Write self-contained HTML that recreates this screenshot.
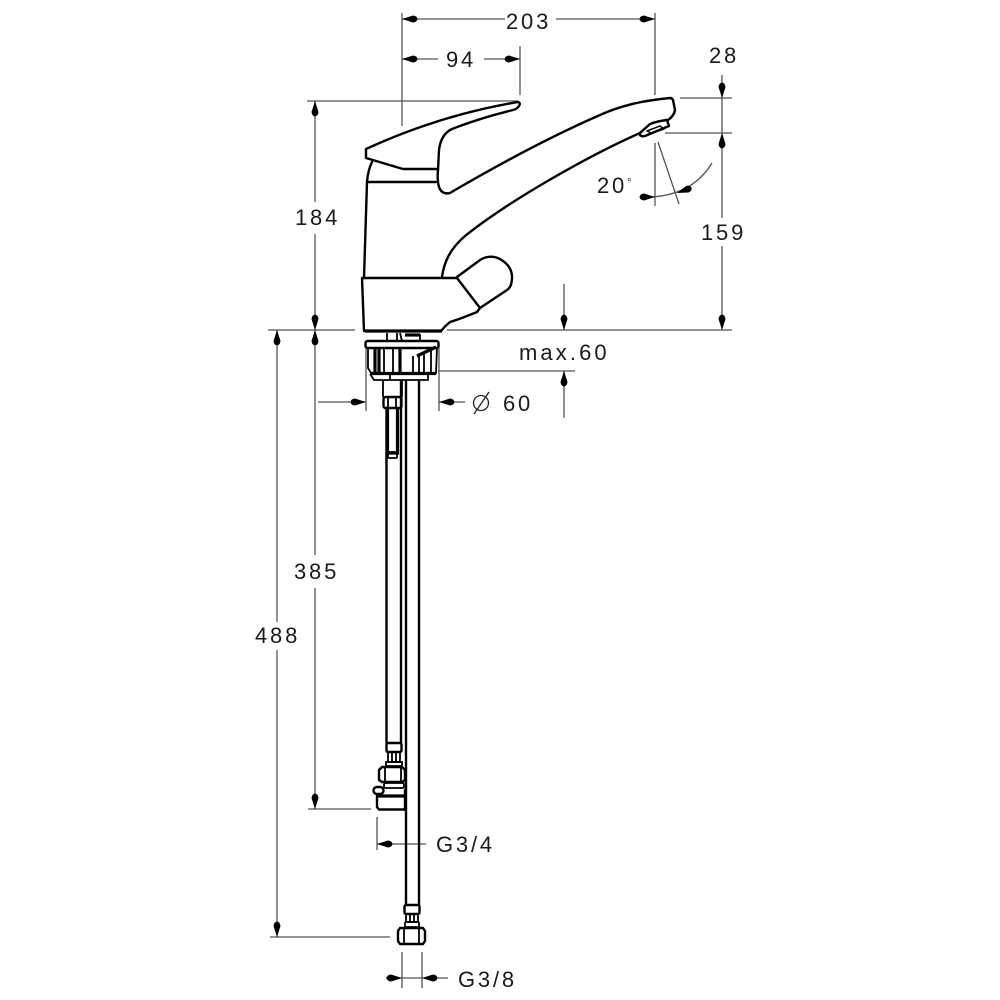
<!DOCTYPE html>
<html>
<head>
<meta charset="utf-8">
<style>
html,body{margin:0;padding:0;background:#fff}
svg{display:block}
text{font-family:"Liberation Sans",sans-serif;font-size:22px;fill:#1a1a1a;letter-spacing:2.800px}
.d{stroke:#555;stroke-width:1.3;fill:none}
.o{stroke:#000;stroke-width:2.4;fill:none;stroke-linejoin:round;stroke-linecap:round}
.t{stroke:#000;stroke-width:1.8;fill:none}
.k{stroke:#000;stroke-width:3.2;fill:none}
.a{fill:#000}
</style>
</head>
<body>
<svg width="1000" height="1000" viewBox="0 0 1000 1000" xmlns="http://www.w3.org/2000/svg">
<defs>
<path id="ar" d="M0 0 L-3.500 -11 Q-3 -15 0 -15.500 Q3 -15 3.500 -11 Z" class="a"/>
</defs>

<!-- dimension lines -->
<g class="d">
<path d="M402 13V126M655 13V95M520 46V95"/>
<path d="M402 19H505M556 19H655"/>
<path d="M402 59H438M484 59H520"/>
<path d="M307 101H518"/>
<path d="M315 101V202M315 234V555M315 588V809"/>
<path d="M268 330H355M447 330H732"/>
<path d="M277 330V622M277 650V937"/>
<path d="M270 937H390M308 809H371"/>
<path d="M680 98H732M665 133H732"/>
<path d="M722 75V218M722 246V330"/>
<path d="M564 284V330M564 371V418M438 371H575"/>
<path d="M366 345V411M439 345V411M318 402H366M439 402H465"/>
<path d="M655 143V206M658 142L679 204"/>
<path d="M640 197Q690 199 712 163"/>
<path d="M377 817V850M377 844H426"/>
<path d="M402 952V988M422 952V988M386 978H448"/>
</g>

<!-- arrowheads: drawn pointing down with the tip at the origin -->
<use href="#ar" transform="translate(402,19) rotate(90)"/>
<use href="#ar" transform="translate(655,19) rotate(-90)"/>
<use href="#ar" transform="translate(402,59) rotate(90)"/>
<use href="#ar" transform="translate(520,59) rotate(-90)"/>
<use href="#ar" transform="translate(315,101) rotate(180)"/>
<use href="#ar" transform="translate(315,330)"/>
<use href="#ar" transform="translate(315,330) rotate(180)"/>
<use href="#ar" transform="translate(315,809)"/>
<use href="#ar" transform="translate(277,330) rotate(180)"/>
<use href="#ar" transform="translate(277,937)"/>
<use href="#ar" transform="translate(722,98)"/>
<use href="#ar" transform="translate(722,133) rotate(180)"/>
<use href="#ar" transform="translate(722,330)"/>
<use href="#ar" transform="translate(564,330)"/>
<use href="#ar" transform="translate(564,371) rotate(180)"/>
<use href="#ar" transform="translate(366,402) rotate(-90)"/>
<use href="#ar" transform="translate(439,402) rotate(90)"/>
<use href="#ar" transform="translate(377,844) rotate(90)"/>
<use href="#ar" transform="translate(402,978) rotate(-90)"/>
<use href="#ar" transform="translate(422,978) rotate(90)"/>
<use href="#ar" transform="translate(655,197) rotate(-90)"/>
<use href="#ar" transform="translate(677,193) rotate(70)"/>

<!-- faucet -->
<g class="o">
<path d="M366 149L366 158L403 169H438"/>
<path d="M366 149Q440 115 518 102Q521 103 519 106Q517 109 513 110Q480 118 452 129Q441 134 439 150L438 170Q437 180 439 187Q442 195 450 193L455 190C510 158 560 132 607 112C630 103 650 100 670 98Q672 98 673 100L675 110Q674 116 668 120"/>
<path d="M372 162Q368 170 367 182L364 278"/>
<path d="M367 182H436"/>
<path d="M640 133C590 155 510 200 465 236C450 249 444 262 442 277"/>
<path d="M362 278H457L480 308L477 312Q460 319 450 322Q445 326 441 331H364Z"/>
<path d="M457 277L480 260Q490 254 500 259Q512 266 512 277Q512 287 507 290L480 308"/>
<path d="M640 133L650 124Q658 121 667 120L669 126L645 136Q642 137 640 135Z"/>
<path d="M647 131L660 126L664 129L651 133Z" stroke-width="1.5"/>
</g>

<!-- base connection -->
<g>
<path d="M365 331H442" class="k"/>
<path d="M387 333V341M397 333V341M400 333L402 341M405 335H420V341" class="t"/>
<path d="M405 335H420" class="k"/>
<rect x="365.500" y="341" width="73" height="7" rx="2" class="o"/>
<path d="M368 348V368L371 373H436L437 348" class="t"/>
<path d="M375 348V372M379 348V372M384 348V372M393 348V372M400 348V372M413 356V372M419 356V372M424 353V372M431 350V372" class="t"/>
<path d="M375 348V372M379 348V372M400 348V372" class="k" stroke-width="2.600"/>
<path d="M417 356L436 347" class="k"/>
<path d="M370 373.500H436" class="k" stroke-width="3.500"/>
<path d="M370 374L374 380H428V373" class="t"/>
<path d="M390 375V379" class="t"/>
<path d="M383 380V397M402 380V397" class="t"/>
<rect x="383.500" y="397" width="18" height="11" rx="2" class="o"/>
<path d="M388 398V407M396 398V407" class="t"/>
</g>

<!-- left hose with inner rod -->
<path d="M386.500 408V743M401 381V743" class="o"/>
<path d="M387.500 408V453H397.500V408" class="k"/>
<rect x="388" y="452" width="9" height="6" rx="1" class="t"/>

<!-- right hose -->
<path d="M406 381V905M419 381V905" class="o"/>

<!-- lower-left fitting -->
<g>
<rect x="386.500" y="743" width="15" height="9" rx="1.500" class="o"/>
<path d="M388 752V762H400V752M392 752V762M396 752V762" class="t"/>
<path d="M386 762H402V766H386Z" class="t"/>
<path d="M382 767H402L405 770V780L402 782H382L379 780V770Z" class="o"/>
<path d="M385 768V781M401 768V781" class="t"/>
<rect x="384" y="783" width="20" height="5" rx="1.500" class="t"/>
<rect x="373.500" y="787" width="10" height="7" rx="3.500" class="o"/>
<path d="M377 796H405" class="k" stroke-width="4"/>
<path d="M377 796V807L379 809.500H405" class="o"/>
<path d="M405 790V810" class="o"/>
</g>

<!-- bottom fitting -->
<g>
<rect x="404.500" y="905" width="15" height="9" rx="1.500" class="o"/>
<path d="M406 914V922H418V914M410 914V922M414 914V922" class="t"/>
<rect x="405" y="922" width="14" height="5" rx="1" class="t"/>
<path d="M400 928H423L425 931V941L423 944H400L398 941V931Z" class="o"/>
<path d="M404 929V943M419 929V943" class="t"/>
</g>

<!-- labels -->
<text x="506" y="29">203</text>
<text x="446" y="67">94</text>
<text x="295" y="225">184</text>
<text x="709" y="63">28</text>
<text x="701" y="240">159</text>
<text x="597" y="193">20</text>
<text x="627" y="186" style="font-size:11px">°</text>
<text x="519" y="360" style="letter-spacing:3.100px">max.60</text>
<circle cx="481" cy="403" r="7.500" fill="none" stroke="#222" stroke-width="1.300"/>
<path d="M474 414L489 392" stroke="#222" stroke-width="1.300" fill="none"/>
<text x="503" y="411">60</text>
<text x="294" y="579">385</text>
<text x="255" y="643">488</text>
<text x="436" y="852">G3/4</text>
<text x="458" y="987">G3/8</text>
</svg>
</body>
</html>
